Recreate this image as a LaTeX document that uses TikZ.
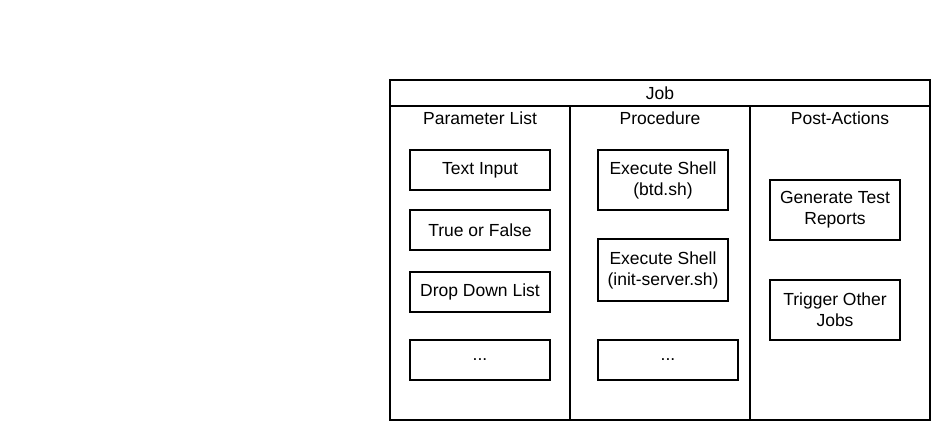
\documentclass[tikz,border=0pt]{standalone}
\usepackage{fontspec}
\setmainfont{Liberation Sans}
\begin{document}
\begin{tikzpicture}[x=1pt, y=-1pt,
  every node/.style={inner sep=0pt, outer sep=0pt, font=\fontsize{17.5}{21}\selectfont},
  lane/.style={draw, line width=1.6pt, minimum width=180pt, minimum height=314pt},
  itembox/.style={draw, line width=1.3pt, align=center, minimum height=40pt, minimum width=140pt}]
\useasboundingbox (0,0) rectangle (952,440);
\node[draw, line width=1.6pt, minimum width=540pt, minimum height=26pt] (job) at (660,93){Job};
\node[lane] (params) at (480,263){};
\node[lane] (proc) at (660,263){};
\node[lane] (post) at (840,263){};
\node (paramstitle) at (480,118){Parameter List};
\node (proctitle) at (660,118){Procedure};
\node (posttitle) at (840,118){Post-Actions};
% parameter list
\node[itembox] (textin) at (480,170){Text Input};
\node[itembox] (truefalse) at (480,230){True or False};
\node[itembox] (dropdown) at (480,292){Drop Down List};
\node[itembox] (paramdots) at (480,360){...};
% procedure
\node[itembox, minimum width=130pt, minimum height=60pt] (btd) at (663,180){Execute Shell\\(btd.sh)};
\node[itembox, minimum width=130pt, minimum height=62pt] (initsrv) at (663,270){Execute Shell\\(init-server.sh)};
\node[itembox] (procdots) at (668,360){...};
% post-actions
\node[itembox, minimum width=130pt, minimum height=60pt] (reports) at (835,210){Generate Test\\Reports};
\node[itembox, minimum width=130pt, minimum height=60pt] (trigger) at (835,310){Trigger Other\\Jobs};
\end{tikzpicture}
\end{document}
